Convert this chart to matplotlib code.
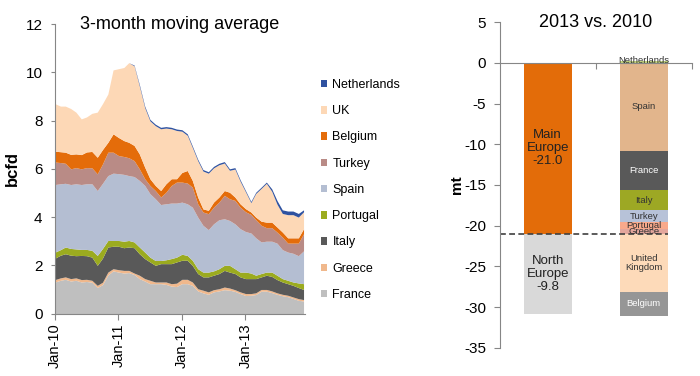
import numpy as np
import pandas as pd
import matplotlib
matplotlib.use('Agg')
import matplotlib.pyplot as plt
import matplotlib.dates as mdates
from matplotlib.patches import Patch

plt.rcParams['font.family'] = ['Liberation Sans', 'DejaVu Sans']
plt.rcParams['axes.unicode_minus'] = False

# === LEFT PANEL: 3-month moving average, top of each stacked band (bcfd) ===
months = pd.date_range('2010-01-01', periods=48, freq='MS')

france_top = [1.31, 1.38, 1.42, 1.35, 1.38, 1.31, 1.33, 1.30, 1.08, 1.20, 1.60, 1.77,
              1.72, 1.68, 1.70, 1.62, 1.45, 1.35, 1.24, 1.24, 1.24, 1.21, 1.14, 1.12,
              1.24, 1.24, 1.17, 0.94, 0.86, 0.80, 0.90, 0.94, 0.99, 0.97, 0.92, 0.83,
              0.75, 0.76, 0.79, 0.93, 0.93, 0.87, 0.80, 0.74, 0.70, 0.63, 0.55, 0.52]
greece_top = [1.41, 1.48, 1.52, 1.45, 1.48, 1.41, 1.42, 1.38, 1.17, 1.30, 1.72, 1.86,
              1.82, 1.79, 1.79, 1.68, 1.59, 1.45, 1.38, 1.31, 1.31, 1.31, 1.24, 1.26,
              1.42, 1.42, 1.31, 1.03, 0.97, 0.90, 0.99, 1.03, 1.10, 1.06, 0.99, 0.90,
              0.83, 0.83, 0.86, 1.00, 1.00, 0.94, 0.86, 0.80, 0.76, 0.69, 0.62, 0.58]
italy_top = [2.30, 2.42, 2.48, 2.42, 2.40, 2.41, 2.40, 2.34, 2.00, 2.30, 2.76, 2.79,
             2.79, 2.73, 2.76, 2.73, 2.48, 2.28, 2.14, 2.00, 2.07, 2.07, 2.07, 2.14,
             2.21, 2.21, 2.00, 1.66, 1.52, 1.52, 1.59, 1.66, 1.79, 1.72, 1.66, 1.52,
             1.45, 1.45, 1.45, 1.52, 1.59, 1.54, 1.41, 1.31, 1.24, 1.17, 1.08, 1.00]
portugal_top = [2.55, 2.65, 2.76, 2.70, 2.68, 2.66, 2.66, 2.62, 2.41, 2.70, 3.03, 3.03,
                3.03, 3.00, 3.03, 2.97, 2.76, 2.55, 2.34, 2.20, 2.20, 2.23, 2.28, 2.34,
                2.46, 2.41, 2.21, 1.86, 1.72, 1.72, 1.77, 1.86, 2.00, 2.00, 1.86, 1.72,
                1.72, 1.68, 1.59, 1.66, 1.72, 1.72, 1.59, 1.45, 1.38, 1.31, 1.27, 1.24]
spain_top = [5.35, 5.38, 5.40, 5.35, 5.38, 5.35, 5.38, 5.38, 5.10, 5.40, 5.72, 5.82,
             5.80, 5.77, 5.72, 5.68, 5.52, 5.31, 4.97, 4.76, 4.52, 4.55, 4.58, 4.58,
             4.62, 4.55, 4.41, 4.00, 3.66, 3.48, 3.72, 3.89, 3.93, 3.86, 3.72, 3.52,
             3.40, 3.34, 3.14, 2.97, 3.00, 3.00, 2.92, 2.65, 2.55, 2.50, 2.40, 2.60]
turkey_top = [6.28, 6.26, 6.23, 6.00, 6.05, 6.00, 6.05, 6.04, 5.79, 6.20, 6.69, 6.69,
              6.55, 6.51, 6.46, 6.34, 6.00, 5.59, 5.31, 5.10, 4.83, 5.03, 5.31, 5.45,
              5.45, 5.41, 5.24, 4.55, 4.21, 4.14, 4.41, 4.62, 4.90, 4.76, 4.69, 4.41,
              4.22, 4.11, 3.89, 3.66, 3.56, 3.56, 3.38, 3.17, 2.92, 2.92, 2.92, 3.31]
belgium_top = [6.73, 6.71, 6.69, 6.60, 6.62, 6.59, 6.70, 6.72, 6.48, 6.80, 7.10, 7.45,
               7.30, 7.17, 7.10, 6.97, 6.62, 6.07, 5.59, 5.31, 5.10, 5.38, 5.59, 5.59,
               5.85, 5.93, 5.52, 4.83, 4.34, 4.28, 4.62, 4.83, 5.10, 5.03, 4.83, 4.55,
               4.35, 4.21, 4.00, 3.83, 3.79, 3.79, 3.59, 3.38, 3.14, 3.14, 3.14, 3.52]
uk_top = [8.70, 8.60, 8.60, 8.50, 8.35, 8.07, 8.15, 8.30, 8.35, 8.70, 9.10, 10.10,
          10.15, 10.20, 10.40, 10.27, 9.44, 8.54, 7.99, 7.79, 7.66, 7.69, 7.66, 7.59,
          7.56, 7.39, 6.89, 6.34, 5.91, 5.82, 6.04, 6.17, 6.24, 5.94, 5.99, 5.49,
          5.05, 4.60, 4.98, 5.19, 5.40, 5.07, 4.54, 4.15, 4.10, 4.10, 4.00, 4.22]
netherlands_top = [8.70, 8.60, 8.60, 8.50, 8.35, 8.07, 8.15, 8.30, 8.35, 8.70, 9.10, 10.10,
                   10.15, 10.20, 10.40, 10.30, 9.50, 8.60, 8.05, 7.85, 7.72, 7.75, 7.72, 7.65,
                   7.62, 7.45, 6.95, 6.40, 5.97, 5.88, 6.10, 6.23, 6.30, 6.00, 6.05, 5.55,
                   5.10, 4.65, 5.03, 5.24, 5.45, 5.17, 4.69, 4.30, 4.25, 4.25, 4.15, 4.30]

area_names = ['France', 'Greece', 'Italy', 'Portugal', 'Spain', 'Turkey', 'Belgium', 'UK', 'Netherlands']
area_tops = [france_top, greece_top, italy_top, portugal_top, spain_top,
             turkey_top, belgium_top, uk_top, netherlands_top]
area_colors = ['#bfbfbf', '#f0b88c', '#595959', '#9bab1f', '#b4bed2',
               '#b98b86', '#e46c0a', '#fdd8b6', '#2f52a0']

# === RIGHT PANEL: 2013 vs. 2010 change (mt) ===
region_names = ['Main\nEurope', 'North\nEurope']
region_values = [-21.0, -9.8]
country_names = ['Spain', 'France', 'Italy', 'Turkey', 'Portugal', 'Greece', 'United\nKingdom', 'Belgium']
country_values = [-10.8, -4.8, -2.5, -1.5, -0.8, -0.6, -7.1, -3.0]
netherlands_change = 0.3

region_colors = ['#e36c09', '#d9d9d9']
country_colors = ['#e2b58c', '#595959', '#9da824', '#b7c2d8', '#f9a98b', '#e3a69c', '#fddab9', '#969696']
country_text = ['#333333', 'white', '#333333', '#333333', '#333333', '#333333', '#333333', 'white']

SPINE = '#868686'
fig = plt.figure(figsize=(7, 3.76), dpi=100)

# --- left: stacked area ---
ax = fig.add_axes([0.0786, 0.166, 0.357, 0.770])
bottom = np.zeros(len(months))
for name, top, col in zip(area_names, area_tops, area_colors):
    top = np.array(top)
    ax.fill_between(months, bottom, top, color=col, linewidth=0, label=name)
    bottom = top

ax.set_xlim(months[0], months[-1] + pd.Timedelta(days=8))
ax.set_ylim(0, 12)
ax.set_yticks(range(0, 13, 2))
ax.xaxis.set_major_locator(mdates.YearLocator())
ax.xaxis.set_major_formatter(mdates.DateFormatter('%b-%y'))
ax.tick_params(axis='x', labelrotation=90, labelsize=10.5, length=4, pad=3, color=SPINE)
ax.tick_params(axis='y', labelsize=11, length=3, pad=6, color=SPINE)
for s in ['top', 'right']:
    ax.spines[s].set_visible(False)
for s in ['left', 'bottom']:
    ax.spines[s].set_color(SPINE)
ax.set_ylabel('bcfd', fontsize=12, fontweight='bold', labelpad=4)
ax.text(0.5, 1.0, '3-month moving average', transform=ax.transAxes,
        ha='center', va='center', fontsize=13)

handles = [Patch(facecolor=c, edgecolor='none') for c in area_colors][::-1]
fig.legend(handles, area_names[::-1], loc='upper left', bbox_to_anchor=(0.458, 0.790),
           frameon=False, fontsize=9, handlelength=0.55, handleheight=0.55,
           handletextpad=0.4, labelspacing=1.14, borderaxespad=0, borderpad=0)

# --- right: stacked bars ---
bx = fig.add_axes([0.714, 0.0753, 0.274, 0.8654])
width = 0.5
bx.bar(0, region_values[0], width, color=region_colors[0])
bx.bar(0, region_values[1], width, bottom=region_values[0], color=region_colors[1])
base = 0.0
for i, name in enumerate(region_names):
    v = region_values[i]
    bx.text(0, base + v / 2, f'{name}\n{v:.1f}', ha='center', va='center',
            fontsize=9.5, color='#222222', linespacing=1.1)
    base += v

bx.bar(1, netherlands_change, width, color='#c4d67e')
base = 0.0
for name, v, col, tc in zip(country_names, country_values, country_colors, country_text):
    bx.bar(1, v, width, bottom=base, color=col)
    bx.text(1, base + v / 2, name, ha='center', va='center', fontsize=6.8,
            color=tc, linespacing=1.05)
    base += v
bx.text(1, -0.2, 'Netherlands', ha='center', va='bottom', fontsize=6.8, color='#333333')

bx.hlines(region_values[0], -0.5, 1 + width / 2, colors='#404040',
          linestyles=(0, (3.5, 2)), linewidth=1.2)

bx.set_xlim(-0.5, 1.5)
bx.set_ylim(-35, 5)
bx.set_yticks(range(-35, 6, 5))
bx.set_xticks([0.5, 1.5])
bx.set_xticklabels([])
bx.spines['bottom'].set_position(('data', 0))
for s in ['top', 'right']:
    bx.spines[s].set_visible(False)
for s in ['left', 'bottom']:
    bx.spines[s].set_color(SPINE)
bx.tick_params(axis='x', length=4, color=SPINE)
bx.tick_params(axis='y', labelsize=11, length=4, pad=6, color=SPINE)
bx.set_ylabel('mt', fontsize=11, fontweight='bold', labelpad=0)
bx.text(0.5, 1.0, '2013 vs. 2010', transform=bx.transAxes,
        ha='center', va='center', fontsize=13)

fig.savefig('out.png', dpi=100)
